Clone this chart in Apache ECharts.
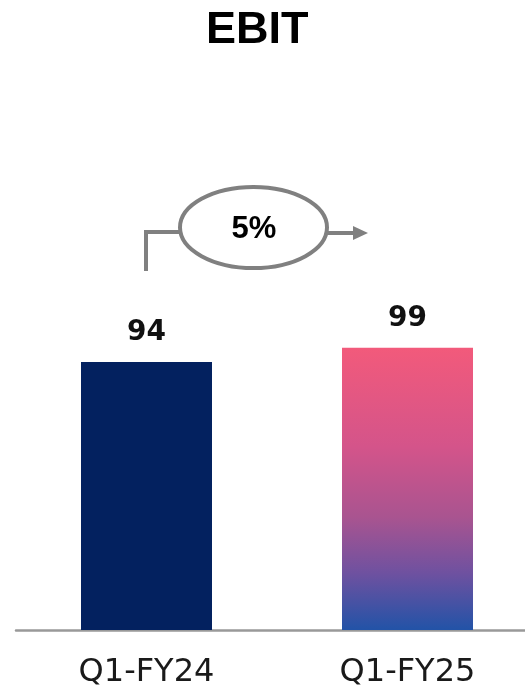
<!DOCTYPE html>
<html>
<head>
<meta charset="utf-8">
<script src="https://cdn.jsdelivr.net/npm/echarts@6/dist/echarts.min.js"></script>
<style>
html,body{margin:0;padding:0;background:#fff;}
#chart{width:525px;height:688px;}
</style>
</head>
<body>
<div id="chart"></div>
<script>
var categories = ['Q1-FY24', 'Q1-FY25'];
var ebitValues = [94, 99];
var growthLabel = '5%';
var titleText = 'EBIT';

var chart = echarts.init(document.getElementById('chart'), null, {renderer: 'canvas'});

var gradient = new echarts.graphic.LinearGradient(0, 0, 0, 1, [
  {offset: 0, color: '#F25A7B'},
  {offset: 0.35, color: '#D4548A'},
  {offset: 0.6, color: '#A95490'},
  {offset: 0.8, color: '#6E51A0'},
  {offset: 1, color: '#2253A7'}
]);
var barColors = ['#03215F', gradient];

var gray = '#808080';

var option = {
  backgroundColor: '#fff',
  animation: false,
  title: {
    text: titleText,
    left: 201,
    top: 3,
    textStyle: {fontFamily: 'Liberation Sans', fontWeight: 'bold', fontSize: 45, color: '#000', lineHeight: 45}
  },
  grid: {left: 16, right: -13, top: 60, bottom: 58, outerBoundsMode: 'none', containLabel: false},
  xAxis: {
    type: 'category',
    data: categories,
    axisLine: {show: true, lineStyle: {color: '#999', width: 2.5}},
    axisTick: {show: false},
    axisLabel: {
      margin: 27,
      fontFamily: 'DejaVu Sans',
      fontSize: 32,
      lineHeight: 32,
      color: '#1a1a1a'
    }
  },
  yAxis: {type: 'value', min: 0, max: 200, show: false, splitLine: {show: false}},
  series: [{
    type: 'bar',
    barWidth: 131,
    data: ebitValues.map(function (v, i) { return {value: v, itemStyle: {color: barColors[i]}}; }),
    label: {
      show: true,
      position: 'top',
      distance: 15,
      fontFamily: 'DejaVu Sans',
      fontWeight: 'bold',
      fontSize: 28,
      color: '#111'
    }
  }],
  graphic: [
    {
      type: 'polyline',
      shape: {points: [[146, 271], [146, 232], [180, 232]]},
      style: {stroke: gray, lineWidth: 4, fill: null}
    },
    {
      type: 'ellipse',
      shape: {cx: 253.5, cy: 227.5, rx: 73.5, ry: 40.5},
      style: {stroke: gray, lineWidth: 4, fill: '#fff'}
    },
    {
      type: 'line',
      shape: {x1: 327, y1: 233, x2: 354, y2: 233},
      style: {stroke: gray, lineWidth: 4}
    },
    {
      type: 'polygon',
      shape: {points: [[353, 226], [368, 233], [353, 240]]},
      style: {fill: gray}
    },
    {
      type: 'text',
      x: 254,
      y: 229,
      style: {
        text: growthLabel,
        fontFamily: 'Liberation Sans',
        fontWeight: 'bold',
        fontSize: 31,
        fill: '#000',
        align: 'center',
        verticalAlign: 'middle'
      }
    }
  ]
};
chart.setOption(option);
</script>
</body>
</html>
